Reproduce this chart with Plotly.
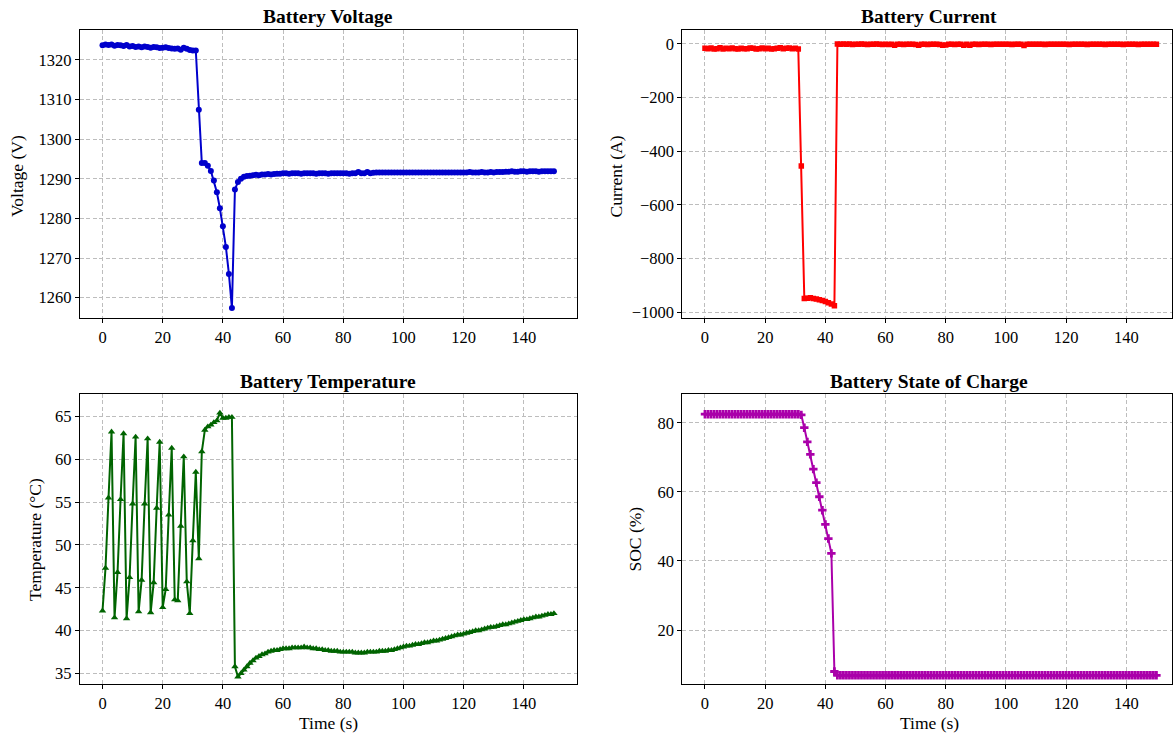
import plotly.graph_objects as go

time_s = list(range(151))

voltage = [
    1323.7, 1323.9, 1323.8, 1323.9, 1323.6, 1323.8, 1323.7, 1323.5, 1323.8, 1323.4,
    1323.5, 1323.3, 1323.4, 1323.2, 1323.4, 1323.3, 1323.1, 1323.3, 1323.2, 1323.0,
    1323.1, 1323.2, 1323.0, 1322.9, 1322.8, 1322.9, 1322.6, 1323.1, 1322.8, 1322.5,
    1322.4, 1322.4,
    1307.4, 1294.0, 1294.0, 1293.3, 1292.0, 1289.6, 1286.6, 1282.6, 1278.0, 1272.8, 1266.0, 1257.4,
    1287.3, 1289.2, 1290.0, 1290.5, 1290.7, 1290.8, 1290.9, 1291.0, 1290.9, 1291.1,
    1291.1, 1291.2, 1291.1, 1291.2, 1291.3, 1291.3,
    1291.4, 1291.4, 1291.3, 1291.4, 1291.4, 1291.4, 1291.3, 1291.4, 1291.4, 1291.4,
    1291.4, 1291.3, 1291.4, 1291.4, 1291.4, 1291.3, 1291.4, 1291.4, 1291.4, 1291.4,
    1291.4, 1291.4, 1291.3, 1291.4, 1291.4, 1291.7, 1291.4, 1291.4, 1291.7, 1291.4,
    1291.5, 1291.6, 1291.6, 1291.6, 1291.6, 1291.6, 1291.6, 1291.6, 1291.6, 1291.6,
    1291.6, 1291.6, 1291.6, 1291.6, 1291.6, 1291.6, 1291.6, 1291.6, 1291.6, 1291.6,
    1291.6, 1291.6, 1291.6, 1291.6, 1291.6, 1291.6, 1291.6, 1291.6, 1291.6, 1291.6,
    1291.6, 1291.6, 1291.7, 1291.6, 1291.6, 1291.6, 1291.7, 1291.6, 1291.6, 1291.7,
    1291.6, 1291.7, 1291.7, 1291.7, 1291.8, 1291.8, 1291.9, 1291.8, 1291.8, 1291.9,
    1291.9, 1291.8, 1291.9, 1291.9, 1291.9, 1291.8, 1291.9, 1291.9, 1291.9, 1291.9, 1291.9,
]

current = [
    -17, -18, -16, -19, -18, -15, -19, -17, -18, -16,
    -18, -19, -17, -18, -18, -16, -17, -19, -18, -16,
    -18, -17, -19, -18, -17, -15, -18, -17, -16, -18,
    -17, -19,
    -455, -948, -947, -946, -948, -950, -953, -956, -960, -964, -969, -975,
    -1, -2, -1, -2, -1, -3, -2, -2, -1, -2, -3, -2, -2, -1, -2, -3,
    -2, -3, -2, -5, -2, -2, -3, -2, -2, -2,
    -3, -5, -2, -2, -3, -2, -2, -2, -3, -5,
    -4, -2, -2, -3, -2, -2, -5, -2, -5, -2,
    -2, -3, -2, -2, -2, -3, -2, -2, -2, -2,
    -2, -2, -3, -2, -2, -2, -6, -2, -2, -2,
    -2, -2, -2, -3, -2, -2, -2, -2, -2, -2,
    -2, -3, -2, -2, -2, -2, -2, -3, -2, -2,
    -2, -2, -2, -3, -2, -2, -2, -2, -2, -3,
    -2, -2, -2, -2, -3, -2, -2, -2, -2, -2, -2,
]

temperature = [
    42.3, 47.3, 55.5, 63.2, 41.5, 46.8, 55.3, 63.0, 41.4, 46.2,
    54.8, 62.6, 42.2, 45.9, 54.8, 62.4, 42.1, 45.6, 54.3, 62.0,
    42.7, 44.8, 53.5, 61.3, 43.6, 43.5, 52.2, 60.3, 45.7, 42.0,
    50.5, 58.5, 48.4, 60.9, 63.4, 63.8, 64.0, 64.3, 64.5, 65.4,
    64.8, 64.8, 64.9, 64.9,
    35.8, 34.6, 35.0, 35.4, 35.8, 36.2, 36.5, 36.8, 37.0, 37.2,
    37.3, 37.5, 37.6, 37.7, 37.7, 37.8,
    37.9, 37.9, 37.9, 38.0, 38.0, 38.0, 38.0, 38.1, 38.0, 38.0,
    37.9, 37.9, 37.8, 37.8, 37.7, 37.7, 37.6, 37.6, 37.6, 37.5,
    37.5, 37.5, 37.5, 37.5, 37.4, 37.4, 37.4, 37.4, 37.5, 37.5,
    37.5, 37.5, 37.6, 37.6, 37.6, 37.7, 37.7, 37.8, 37.9, 38.0,
    38.1, 38.2, 38.2, 38.3, 38.4, 38.4, 38.5, 38.6, 38.6, 38.7,
    38.8, 38.8, 38.9, 39.0, 39.1, 39.2, 39.3, 39.4, 39.5, 39.5,
    39.6, 39.7, 39.8, 39.9, 40.0, 40.0, 40.1, 40.2, 40.3, 40.4,
    40.4, 40.5, 40.6, 40.7, 40.7, 40.8, 40.9, 41.0, 41.1, 41.2,
    41.3, 41.3, 41.4, 41.5, 41.6, 41.6, 41.7, 41.8, 41.9, 41.9, 42.0,
]

soc = [
    82.5, 82.5, 82.5, 82.5, 82.5, 82.5, 82.5, 82.5, 82.5, 82.5,
    82.5, 82.5, 82.5, 82.5, 82.5, 82.5, 82.5, 82.5, 82.5, 82.5,
    82.5, 82.5, 82.5, 82.5, 82.5, 82.5, 82.5, 82.5, 82.5, 82.5,
    82.5, 82.5, 82.3,
    78.6, 74.5, 70.9, 66.6, 62.7, 58.6, 54.7, 50.6, 46.5, 42.2,
    8.0,
    6.9, 6.9, 6.9, 6.9, 6.9, 6.9, 6.9, 6.9, 6.9, 6.9,
    6.9, 6.9, 6.9, 6.9, 6.9, 6.9, 6.9, 6.9, 6.9, 6.9,
    6.9, 6.9, 6.9, 6.9, 6.9, 6.9, 6.9, 6.9, 6.9, 6.9,
    6.9, 6.9, 6.9, 6.9, 6.9, 6.9, 6.9, 6.9, 6.9, 6.9,
    6.9, 6.9, 6.9, 6.9, 6.9, 6.9, 6.9, 6.9, 6.9, 6.9,
    6.9, 6.9, 6.9, 6.9, 6.9, 6.9, 6.9, 6.9, 6.9, 6.9,
    6.9, 6.9, 6.9, 6.9, 6.9, 6.9, 6.9, 6.9, 6.9, 6.9,
    6.9, 6.9, 6.9, 6.9, 6.9, 6.9, 6.9, 6.9, 6.9, 6.9,
    6.9, 6.9, 6.9, 6.9, 6.9, 6.9, 6.9, 6.9, 6.9, 6.9,
    6.9, 6.9, 6.9, 6.9, 6.9, 6.9, 6.9, 6.9, 6.9, 6.9,
    6.9, 6.9, 6.9, 6.9, 6.9, 6.9, 6.9,
]

titles = ["Battery Voltage", "Battery Current", "Battery Temperature", "Battery State of Charge"]
ylabels = ["Voltage (V)", "Current (A)", "Temperature (°C)", "SOC (%)"]
xlabel = "Time (s)"

W, H = 1173, 738
FONT = "Liberation Serif, Times New Roman, serif"

def px_x(p):
    return p / W

def px_y(p):
    return 1 - p / H

fig = go.Figure()

series = [
    (voltage, "#0000cc", "circle", 6, "x", "y"),
    (current, "#ff0000", "square", 5.5, "x2", "y2"),
    (temperature, "#006400", "triangle-up", 6.5, "x3", "y3"),
    (soc, "#aa00aa", "cross", 7, "x4", "y4"),
]
for vals, col, sym, ms, xa, ya in series:
    fig.add_trace(go.Scatter(
        x=time_s, y=vals, mode="lines+markers", xaxis=xa, yaxis=ya,
        line=dict(color=col, width=2),
        marker=dict(symbol=sym, size=ms, color=col, line=dict(width=0)),
        showlegend=False,
    ))

axis_common = dict(
    showline=True, mirror=True, linecolor="black", linewidth=1.2,
    ticks="outside", ticklen=4, tickcolor="black", tickwidth=1,
    showgrid=True, gridcolor="#bdbdbd", griddash="4px,2.5px", gridwidth=1,
    zeroline=False, tickfont=dict(family=FONT, size=16.5, color="black"),
)

left = [px_x(80), px_x(577)]
right = [px_x(683), 1.0]
top = [px_y(320), px_y(30)]
bot = [px_y(688), px_y(396)]

xr_left = [-7.5, 157.5]
xr_right = [-7.5, -7.5 + (1173 - 683) / (497 / 165)]
xt = [0, 20, 40, 60, 80, 100, 120, 140]

fig.update_layout(
    width=W, height=H,
    margin=dict(l=0, r=0, t=0, b=0),
    paper_bgcolor="white", plot_bgcolor="white",
    xaxis=dict(domain=left, anchor="y", range=xr_left, tickvals=xt, **axis_common),
    yaxis=dict(domain=top, anchor="x", range=[1254.8, 1327.6], tickvals=[1260, 1270, 1280, 1290, 1300, 1310, 1320], **axis_common),
    xaxis2=dict(domain=right, anchor="y2", range=xr_right, tickvals=xt, **axis_common),
    yaxis2=dict(domain=top, anchor="x2", range=[-1022, 52], tickvals=[-1000, -800, -600, -400, -200, 0], **axis_common),
    xaxis3=dict(domain=left, anchor="y3", range=xr_left, tickvals=xt, **axis_common),
    yaxis3=dict(domain=bot, anchor="x3", range=[33.73, 67.63], tickvals=[35, 40, 45, 50, 55, 60, 65], **axis_common),
    xaxis4=dict(domain=right, anchor="y4", range=xr_right, tickvals=xt, **axis_common),
    yaxis4=dict(domain=bot, anchor="x4", range=[4.3, 88.4], tickvals=[20, 40, 60, 80], **axis_common),
)

ann = []
title_pos = [(328.5, 17), (930, 17), (328.5, 384), (930, 384)]
for t, (cx, cy) in zip(titles, title_pos):
    ann.append(dict(text=f"<b>{t}</b>", x=px_x(cx), y=px_y(cy), xref="paper", yref="paper",
                    xanchor="center", yanchor="middle", showarrow=False,
                    font=dict(family=FONT, size=19.5, color="black")))
ylab_pos = [(17, 177), (617, 177), (35, 542), (636, 542)]
for t, (cx, cy) in zip(ylabels, ylab_pos):
    ann.append(dict(text=t, x=px_x(cx), y=px_y(cy), xref="paper", yref="paper",
                    xanchor="center", yanchor="middle", showarrow=False, textangle=-90,
                    font=dict(family=FONT, size=17.5, color="black")))
for cx in (328.5, 930):
    ann.append(dict(text=xlabel, x=px_x(cx), y=px_y(727), xref="paper", yref="paper",
                    xanchor="center", yanchor="middle", showarrow=False,
                    font=dict(family=FONT, size=17.5, color="black")))
fig.update_layout(annotations=ann)

fig.write_html("out.html")
